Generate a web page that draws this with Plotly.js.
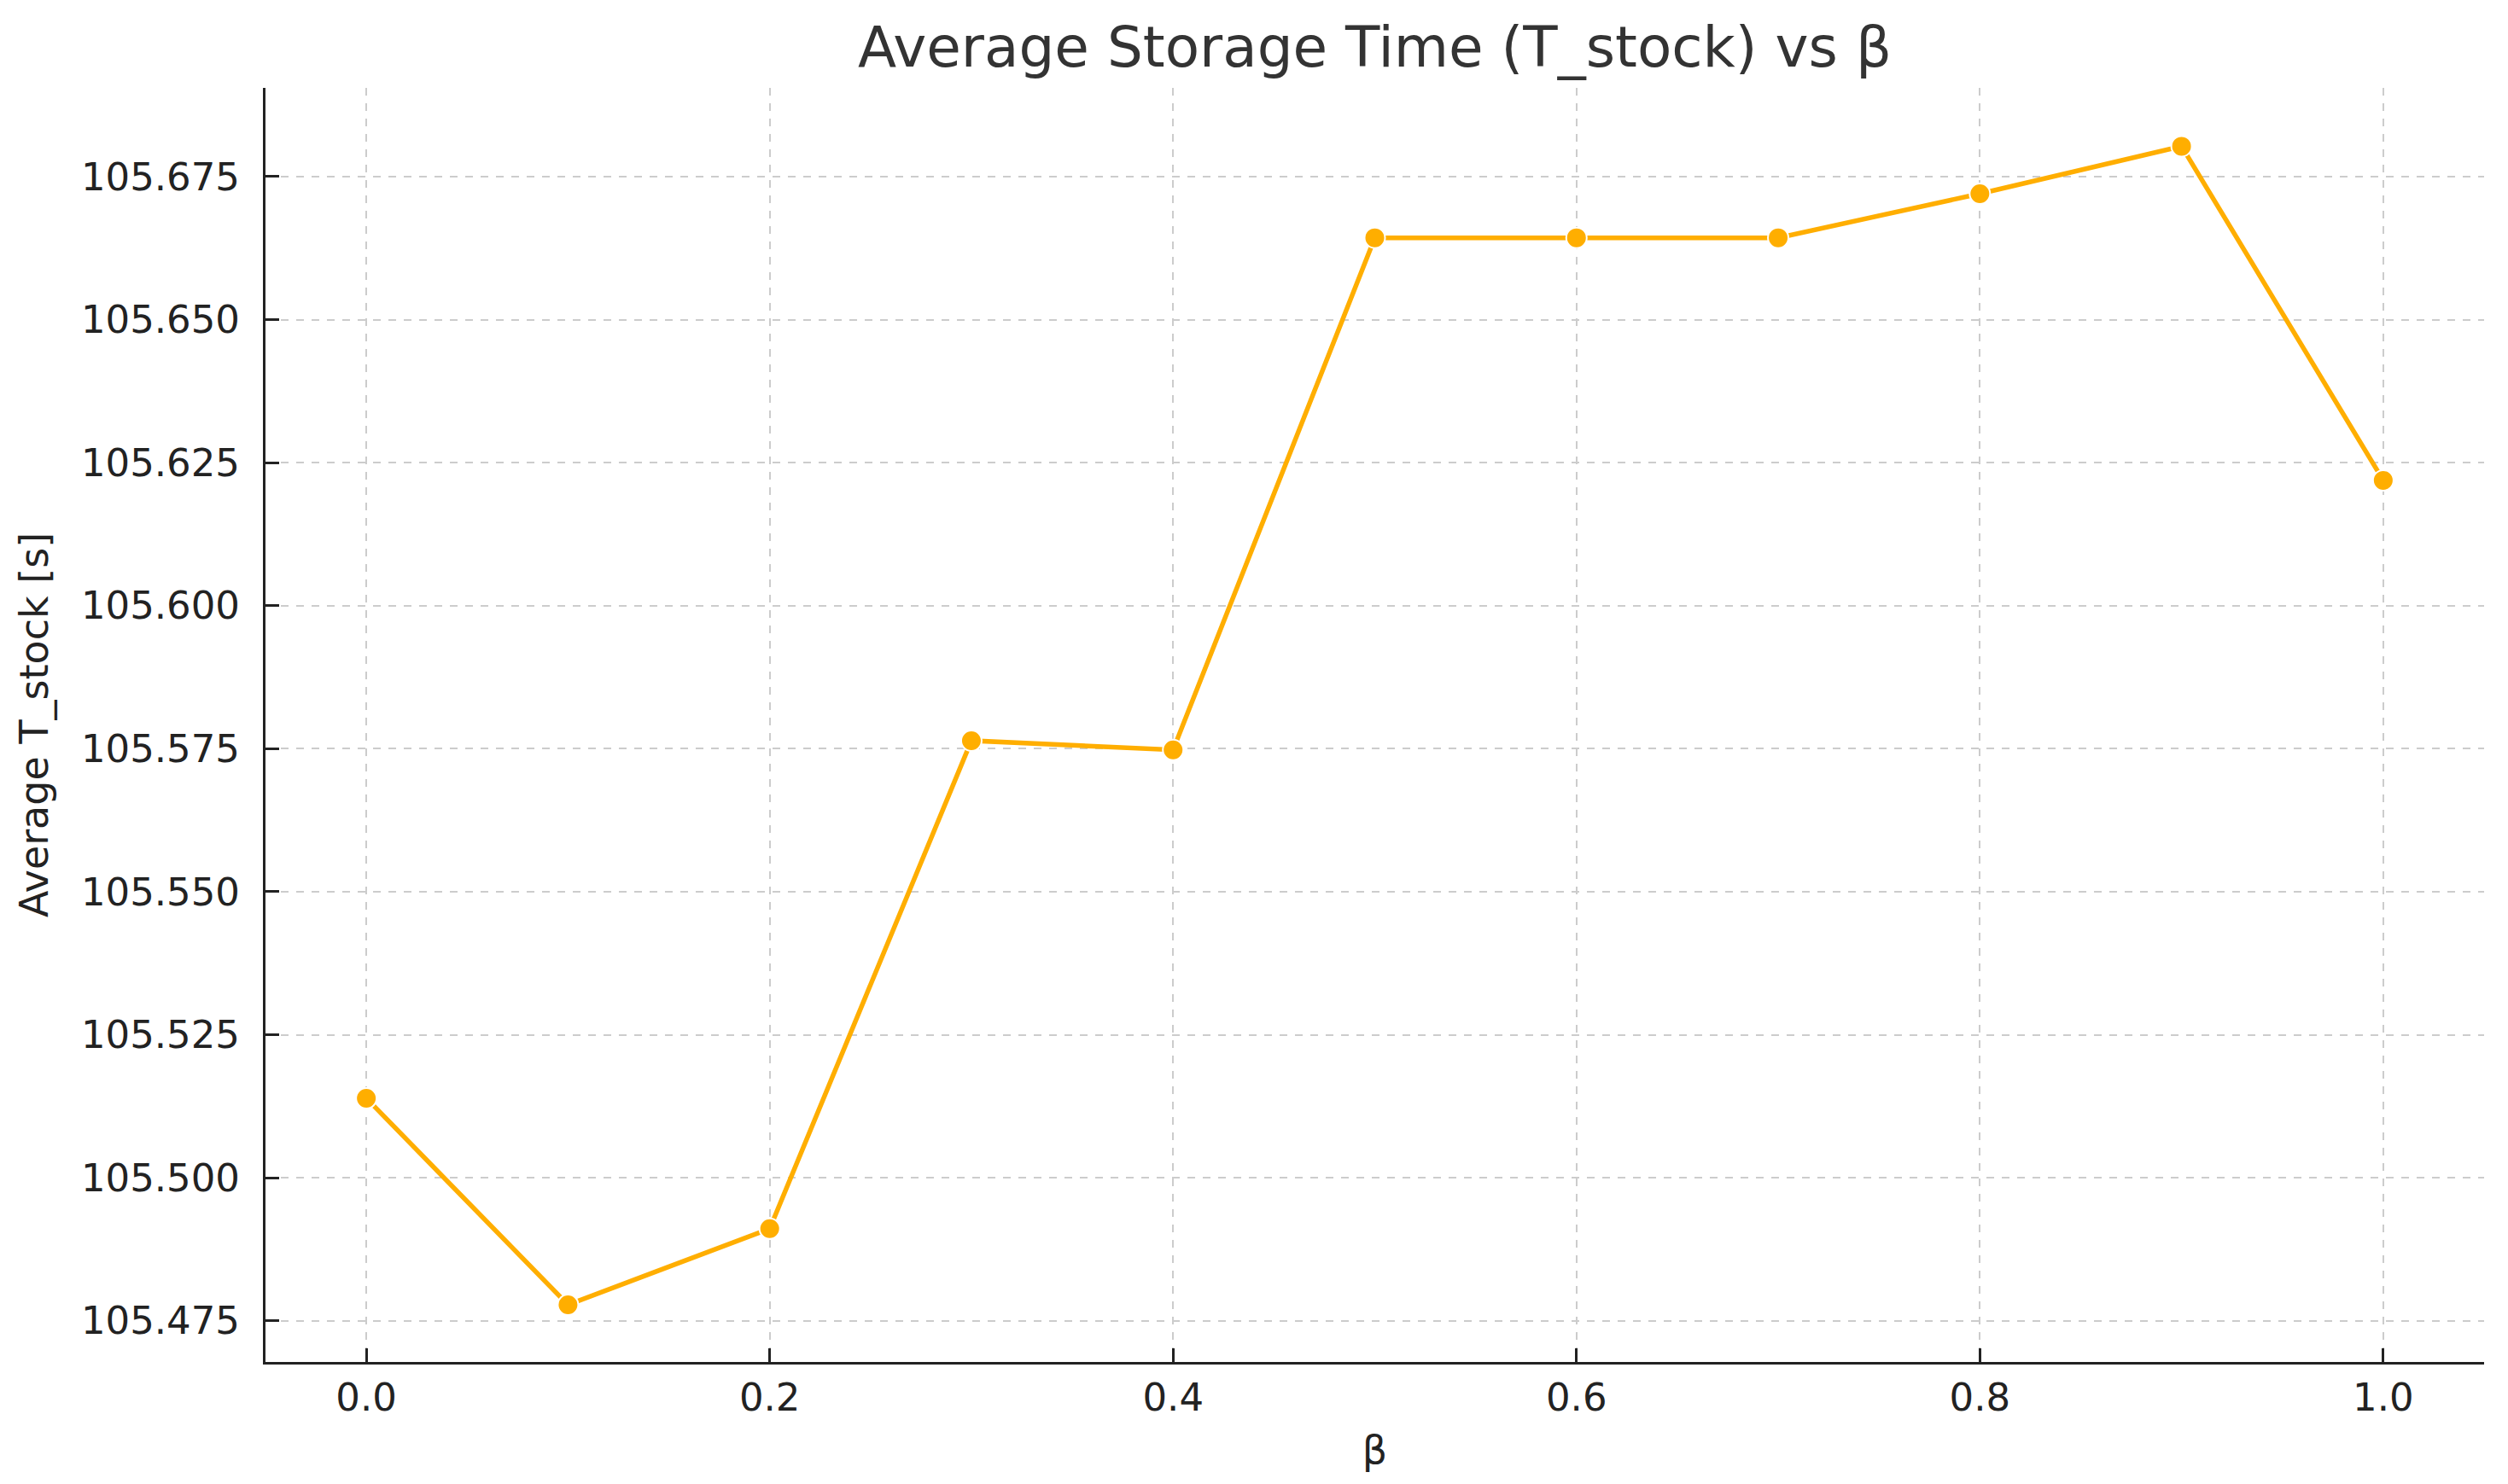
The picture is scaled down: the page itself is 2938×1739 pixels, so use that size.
<!DOCTYPE html>
<html>
<head>
<meta charset="utf-8">
<script src="https://cdn.plot.ly/plotly-3.0.1.min.js"></script>
<style>
  html, body { margin: 0; padding: 0; background: #fff; }
  #graph { width: 2938px; height: 1739px; }
</style>
</head>
<body>
<div id="graph"></div>
<script>
// beta values and the average storage time
const betaValues = [0.0, 0.1, 0.2, 0.3, 0.4, 0.5, 0.6, 0.7, 0.8, 0.9, 1.0];
const avgTStock = [105.5139, 105.4778, 105.4911, 105.5764, 105.5748, 105.6643, 105.6643, 105.6643, 105.6720, 105.6803, 105.6219];

const xTicks = [0.0, 0.2, 0.4, 0.6, 0.8, 1.0];
const yTicks = [105.475, 105.500, 105.525, 105.550, 105.575, 105.600, 105.625, 105.650, 105.675];

const lineColor = '#FFAE00';
const textColor = '#222222';
const fontFamily = 'DejaVu Sans, sans-serif';

const trace = {
    type: 'scatter',
    mode: 'lines+markers',
    x: betaValues,
    y: avgTStock,
    line: { color: lineColor, width: 5.5 },
    marker: { color: lineColor, size: 24, line: { color: '#ffffff', width: 2 } },
    hoverinfo: 'x+y'
};

const axisCommon = {
    showline: true,
    linecolor: textColor,
    linewidth: 3,
    mirror: false,
    ticks: 'inside',
    ticklen: 16,
    tickwidth: 3,
    tickcolor: textColor,
    showgrid: true,
    gridcolor: '#cccccc',
    gridwidth: 2,
    griddash: 'dash',
    zeroline: false,
    tickfont: { family: fontFamily, size: 45, color: textColor },
    automargin: false
};

const layout = {
    width: 2938,
    height: 1739,
    paper_bgcolor: '#ffffff',
    plot_bgcolor: '#ffffff',
    margin: { l: 311, r: 28, t: 103, b: 143 },
    showlegend: false,
    font: { family: fontFamily, color: textColor },
    title: {
        text: 'Average Storage Time (T_stock) vs β',
        font: { family: fontFamily, size: 66, color: '#333333' },
        x: 0.5,
        xref: 'paper',
        xanchor: 'center',
        y: 1 - 55 / 1739,
        yref: 'container',
        yanchor: 'middle'
    },
    xaxis: Object.assign({}, axisCommon, {
        range: [-0.05, 1.05],
        tickvals: xTicks,
        ticktext: xTicks.map(v => v.toFixed(1)),
        ticklabelstandoff: 0,
        title: { text: 'β', font: { family: fontFamily, size: 46, color: textColor }, standoff: 20 }
    }),
    yaxis: Object.assign({}, axisCommon, {
        range: [105.4678, 105.6905],
        tickvals: yTicks,
        ticktext: yTicks.map(v => v.toFixed(3)),
        ticklabelstandoff: 18,
        title: { text: 'Average T_stock [s]', font: { family: fontFamily, size: 46, color: textColor }, standoff: 24 }
    })
};

Plotly.newPlot('graph', [trace], layout, { displayModeBar: false, staticPlot: true });
</script>
</body>
</html>
